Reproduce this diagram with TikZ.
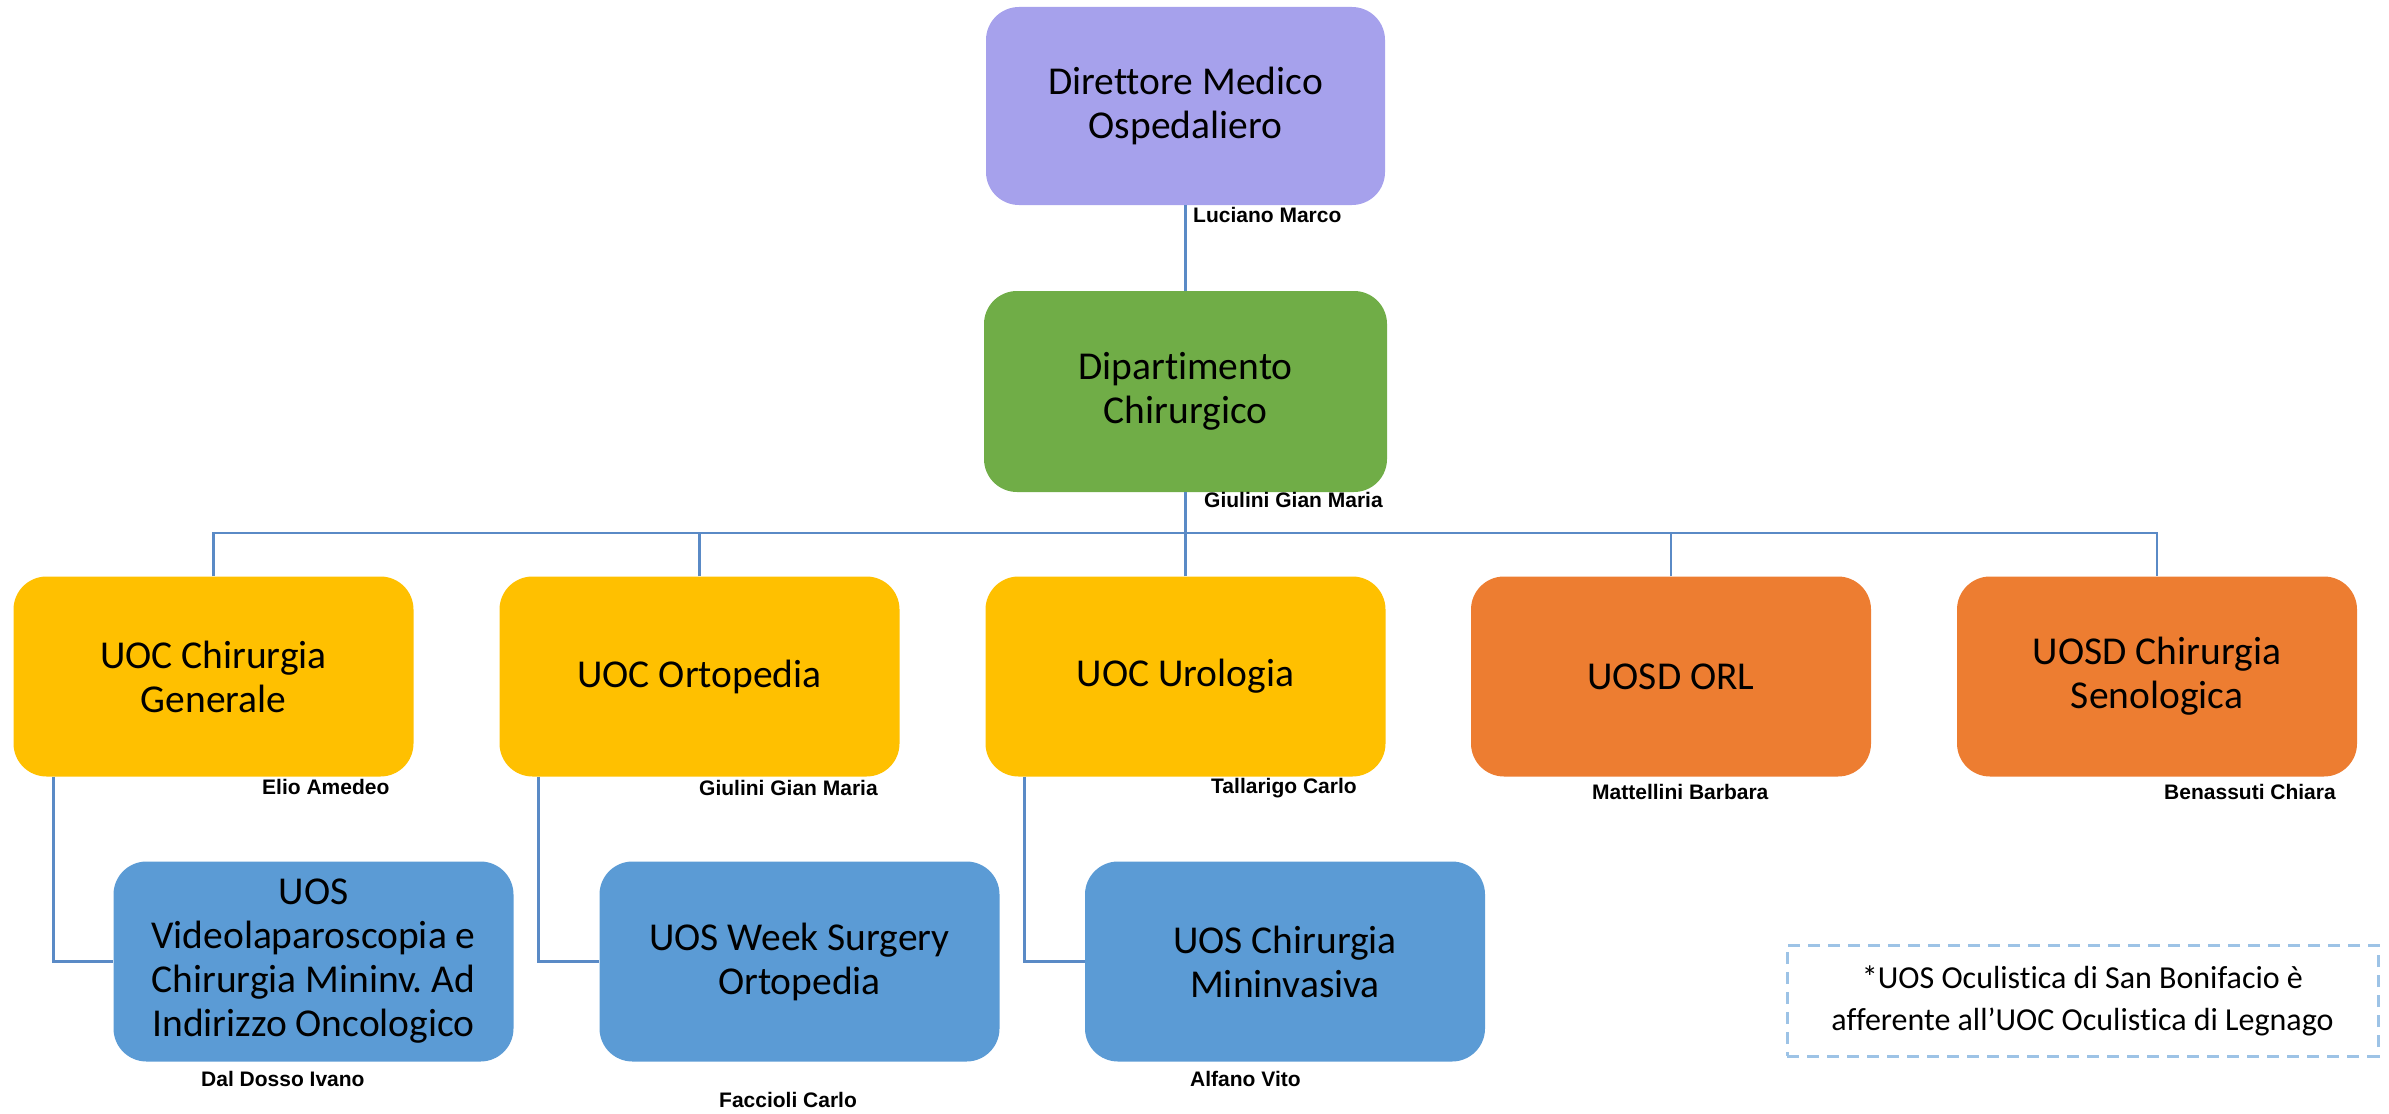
\documentclass[tikz,border=0pt]{standalone}
\usepackage{fontspec}
\setmainfont{Carlito}[Ligatures={NoCommon}]
\newfontfamily\namefont{Liberation Sans}
\definecolor{cpurple}{HTML}{A6A1EC}
\definecolor{cgreen}{HTML}{70AD47}
\definecolor{cyellow}{HTML}{FFC000}
\definecolor{corange}{HTML}{ED7D31}
\definecolor{cblue}{HTML}{5B9BD5}
\definecolor{linec}{HTML}{5A8AC6}
\definecolor{dashc}{HTML}{9DC3E6}
\frenchspacing
\begin{document}
\begin{tikzpicture}[x=1pt,y=-1pt,
  box/.style={rounded corners=33pt, minimum width=400pt, minimum height=200pt,
    align=center, inner sep=0pt, text=black, font=\fontsize{39.5}{44}\selectfont},
  pname/.style={font=\namefont\bfseries\fontsize{21}{24}\selectfont, anchor=west, inner sep=0pt},
  conn/.style={draw=linec, line width=2.5pt},
  note/.style={draw=dashc, line width=3pt, dash pattern=on 12pt off 8pt,
    minimum width=591pt, minimum height=111pt, align=center, inner sep=0pt,
    font=\fontsize{32}{42}\selectfont}]
\useasboundingbox (0,0) rectangle (2389,1113);
% boxes
\node[box, fill=cpurple, minimum width=399pt, minimum height=198pt] (dir) at (1185.5,106) {Direttore Medico\\Ospedaliero};
\node[box, fill=cgreen, minimum width=403pt, minimum height=201pt] (dept) at (1185.5,391.5) {Dipartimento\\Chirurgico};
\node[box, fill=cyellow] (gen) at (213.5,676.5) {UOC Chirurgia\\Generale};
\node[box, fill=cyellow] (ort) at (699.5,676.5) {UOC Ortopedia};
\node[box, fill=cyellow] (uro) at (1185.5,676.5) {UOC Urologia};
\node[box, fill=corange] (orl) at (1671,676.5) {UOSD ORL};
\node[box, fill=corange] (sen) at (2157,676.5) {UOSD Chirurgia\\Senologica};
\node[box, fill=cblue] (vid) at (313.5,961.5) {UOS\\Videolaparoscopia e\\Chirurgia Mininv.\ Ad\\Indirizzo Oncologico};
\node[box, fill=cblue] (week) at (799.5,961.5) {UOS Week Surgery\\Ortopedia};
\node[box, fill=cblue] (mini) at (1285,961.5) {UOS Chirurgia\\Mininvasiva};
% connectors
\coordinate (bus) at (0,533);
\draw[conn] (dir.south) -- (dept.north);
\draw[conn] (dept.south) -- (dept.south |- bus);
\draw[conn] (gen.north) -- (gen.north |- bus) -- (sen.north |- bus) -- (sen.north);
\foreach \n in {ort,uro,orl} \draw[conn] (\n.north) -- (\n.north |- bus);
\draw[conn] ([xshift=40pt]gen.south west) |- (vid.west);
\draw[conn] ([xshift=39pt]ort.south west) |- (week.west);
\draw[conn] ([xshift=39pt]uro.south west) |- (mini.west);
% names
\node[pname] (n1) at (1193,215) {Luciano Marco};
\node[pname] (n2) at (1204,500) {Giulini Gian Maria};
\node[pname] (n3) at (262,787) {Elio Amedeo};
\node[pname] (n4) at (699,788) {Giulini Gian Maria};
\node[pname] (n5) at (1211,788) {Tallarigo Carlo};
\node[pname] (n6) at (1592,792) {Mattellini Barbara};
\node[pname] (n7) at (2164,792) {Benassuti Chiara};
\node[pname] (n8) at (201,1079) {Dal Dosso Ivano};
\node[pname] (n9) at (719,1100) {Faccioli Carlo};
\node[pname] (n10) at (1190,1079) {Alfano Vito};
% note
\node[note] (nt) at (2082.5,1000.5) {*UOS Oculistica di San Bonifacio è\\afferente all’UOC Oculistica di Legnago};
\end{tikzpicture}
\end{document}
